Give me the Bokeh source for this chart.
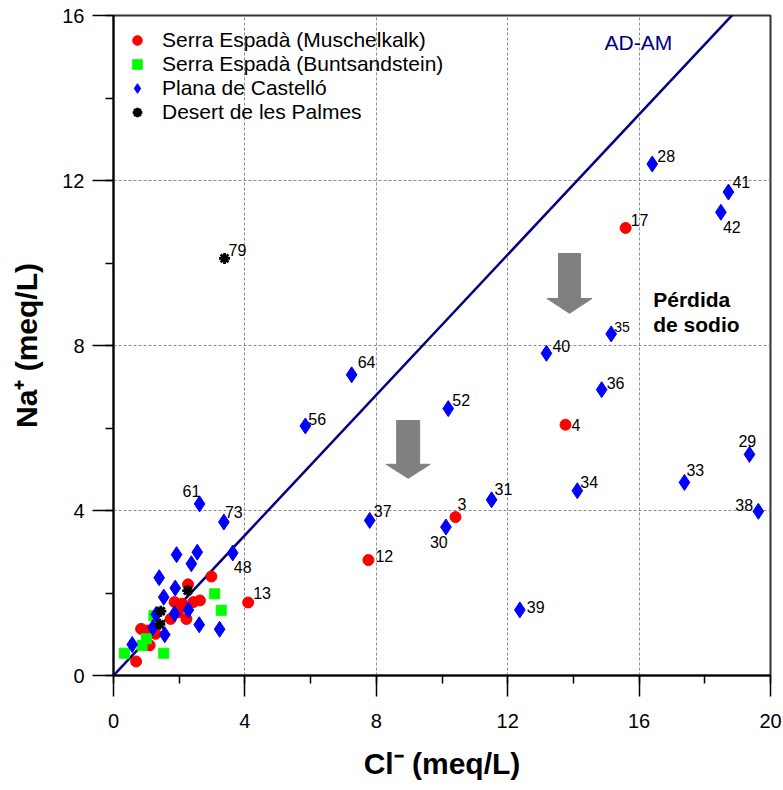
from bokeh.plotting import figure
from bokeh.models import (ColumnDataSource, SingleIntervalTicker, Label, Legend,
                          LegendItem, Range1d)
from bokeh.core.properties import value
from bokeh.embed import file_html
from bokeh.resources import INLINE

FONT = "Liberation Sans"

# Serra Espadà (Muschelkalk) -- Cl- and Na+ in meq/L, sample id ("" = unlabelled)
musch_id = ["17", "4", "3", "12", "13",
            "", "", "", "", "", "", "", "", "", "", "", "", "", ""]
musch_cl = [15.59, 13.76, 10.41, 7.76, 4.10,
            2.98, 2.27, 1.86, 2.09, 2.43, 2.63, 1.74, 2.22, 1.96, 0.84, 1.03, 1.28, 1.10, 0.69]
musch_na = [10.85, 6.08, 3.84, 2.80, 1.77,
            2.40, 2.21, 1.78, 1.74, 1.78, 1.82, 1.37, 1.37, 1.53, 1.13, 1.09, 1.01, 0.73, 0.34]

# Serra Espadà (Buntsandstein)
bunt_cl = [3.08, 3.28, 1.23, 1.00, 0.87, 0.33, 1.53]
bunt_na = [1.98, 1.58, 1.45, 0.89, 0.73, 0.54, 0.54]

# Plana de Castelló
plana_id = ["28", "41", "42", "35", "40", "36", "64", "52", "56", "29", "33", "34",
            "38", "31", "30", "37", "39", "61", "73", "48",
            "", "", "", "", "", "", "", "", "", "", "", "", "", ""]
plana_cl = [16.40, 18.72, 18.49, 15.15, 13.18, 14.86, 7.25, 10.19, 5.84, 19.36, 17.38, 14.12,
            19.63, 11.51, 10.12, 7.80, 12.37, 2.62, 3.36, 3.63,
            1.92, 2.55, 2.37, 1.39, 1.88, 1.53, 1.86, 2.28, 2.61, 3.23, 1.20, 1.56, 0.57, 1.30]
plana_na = [12.40, 11.72, 11.23, 8.28, 7.81, 6.93, 7.29, 6.47, 6.05, 5.36, 4.68, 4.48,
            3.98, 4.26, 3.60, 3.76, 1.59, 4.16, 3.72, 2.97,
            2.93, 2.99, 2.71, 2.37, 2.12, 1.90, 1.50, 1.59, 1.23, 1.12, 1.16, 0.99, 0.75, 1.48]

# Desert de les Palmes
desert_id = ["79", "", "", ""]
desert_cl = [3.38, 2.26, 1.44, 1.41]
desert_na = [10.11, 2.06, 1.56, 1.24]

# Seawater Na/Cl ratio (AD-AM mixing line)
seawater_ratio = 0.85
line_cl = [0.0, 20.0]
line_na = [seawater_ratio * c for c in line_cl]

# Label placement around each marker: (dx, dy) in pixels, +dy downward
label_offsets = {
    "28": (5, -8), "41": (4, -10), "42": (2, 15), "17": (5, -8), "35": (3, -7),
    "40": (6, -7), "36": (5, -7), "4": (6, 0), "64": (6, -13), "52": (4, -9),
    "56": (3, -7), "29": (-11, -13), "33": (2, -12), "34": (3, -9), "38": (-23, -6),
    "31": (3, -11), "3": (2, -13), "30": (-16, 15), "37": (4, -9), "12": (7, -4),
    "61": (-17, -13), "73": (1, -10), "48": (1, 14), "13": (5, -9), "39": (7, -3),
    "79": (4, -8),
}
small_labels = {"35"}

p = figure(width=783, height=790, x_range=Range1d(0, 20), y_range=Range1d(0, 16),
           output_backend="svg", toolbar_location=None,
           min_border_left=113, min_border_right=13, min_border_top=15,
           min_border_bottom=115)
p.background_fill_color = "white"
p.border_fill_color = "white"
p.outline_line_color = "#333333"
p.outline_line_width = 2

xt = SingleIntervalTicker(interval=4, num_minor_ticks=2)
yt = SingleIntervalTicker(interval=4, num_minor_ticks=2)
p.xaxis.ticker = xt
p.yaxis.ticker = yt
p.xgrid.ticker = xt
p.ygrid.ticker = yt

for g in (p.xgrid, p.ygrid):
    g.grid_line_color = "#8c8c8c"
    g.grid_line_dash = "3 2"
    g.grid_line_width = 1

for ax in (p.xaxis, p.yaxis):
    ax.axis_line_color = "black"
    ax.axis_line_width = 2
    ax.major_tick_line_color = "black"
    ax.major_tick_line_width = 1.5
    ax.minor_tick_line_color = "black"
    ax.minor_tick_line_width = 1.5
    ax.major_tick_in = 0
    ax.major_tick_out = 21
    ax.minor_tick_in = 0
    ax.minor_tick_out = 8
    ax.major_label_text_font = FONT
    ax.major_label_text_font_size = "20px"
    ax.major_label_text_color = "black"
    ax.axis_label_text_font = FONT
    ax.axis_label_text_font_size = "30px"
    ax.axis_label_text_font_style = "bold"
    ax.axis_label_text_color = "black"

p.xaxis.major_label_standoff = 17
p.yaxis.major_label_standoff = 8
p.xaxis.axis_label_standoff = 16
p.yaxis.axis_label_standoff = 16
p.xaxis.axis_label = "Cl\u207b (meq/L)"
p.yaxis.axis_label = "Na\u207a (meq/L)"

# Arrows marking sodium loss: centre Cl, top, tip, head length, half widths (data units)
arrows = [
    dict(cl=8.97, top=6.18, tip=4.78, head=0.34, shaft=0.35, head_half=0.67),
    dict(cl=13.88, top=10.23, tip=8.78, head=0.36, shaft=0.335, head_half=0.685),
]
for a in arrows:
    base = a["tip"] + a["head"]
    xs = [a["cl"] - a["shaft"], a["cl"] + a["shaft"], a["cl"] + a["shaft"],
          a["cl"] + a["head_half"], a["cl"], a["cl"] - a["head_half"], a["cl"] - a["shaft"]]
    ys = [a["top"], a["top"], base, base, a["tip"], base, base]
    p.patch(xs, ys, fill_color="#808080", line_color="#808080", line_width=1)

# Seawater mixing line
p.line(line_cl, line_na, line_color="#000080", line_width=2.5)

r_musch = p.scatter(musch_cl, musch_na, marker="circle", size=11,
                    fill_color="#ff0000", line_color="#ff0000")
r_bunt = p.scatter(bunt_cl, bunt_na, marker="square", size=10,
                   fill_color="#00ff00", line_color="#00ff00")
r_plana = p.scatter(plana_cl, plana_na, marker="diamond", size=16,
                    fill_color="#0000ff", line_color="#0000ff")
r_desert = p.scatter(desert_cl, desert_na, marker="asterisk", size=11,
                     line_color="black", line_width=2.8)

# Sample numbers
lab_x, lab_y, lab_t, lab_dx, lab_dy, lab_fs = [], [], [], [], [], []
for ids, xs, ys in ((musch_id, musch_cl, musch_na), (plana_id, plana_cl, plana_na),
                    (desert_id, desert_cl, desert_na)):
    for i, c, n in zip(ids, xs, ys):
        if not i:
            continue
        dx, dy = label_offsets[i]
        lab_x.append(c)
        lab_y.append(n)
        lab_t.append(i)
        lab_dx.append(dx)
        lab_dy.append(dy)
        lab_fs.append("14px" if i in small_labels else "16px")
lab_src = ColumnDataSource(dict(x=lab_x, y=lab_y, text=lab_t, dx=lab_dx, dy=lab_dy, fs=lab_fs))
p.text(x="x", y="y", text="text", x_offset="dx", y_offset="dy", text_font_size="fs",
       source=lab_src, text_font=value(FONT), text_color="black",
       text_align="left", text_baseline="middle")

p.add_layout(Label(x=14.95, y=15.35, text="AD-AM", text_color="#000080",
                   text_font=FONT, text_font_size="21px",
                   text_align="left", text_baseline="middle"))
p.add_layout(Label(x=16.43, y=9.11, text="Pérdida", text_color="black",
                   text_font=FONT, text_font_size="21px", text_font_style="bold",
                   text_align="left", text_baseline="alphabetic"))
p.add_layout(Label(x=16.43, y=8.51, text="de sodio", text_color="black",
                   text_font=FONT, text_font_size="21px", text_font_style="bold",
                   text_align="left", text_baseline="alphabetic"))

legend = Legend(items=[
    LegendItem(label="Serra Espadà (Muschelkalk)", renderers=[r_musch]),
    LegendItem(label="Serra Espadà (Buntsandstein)", renderers=[r_bunt]),
    LegendItem(label="Plana de Castelló", renderers=[r_plana]),
    LegendItem(label="Desert de les Palmes", renderers=[r_desert]),
], location=(12, 551))
legend.label_text_font = FONT
legend.label_text_font_size = "21px"
legend.label_text_color = "black"
legend.glyph_width = 24
legend.glyph_height = 24
legend.label_height = 24
legend.spacing = 0
legend.label_standoff = 13
legend.padding = 5
legend.margin = 0
legend.border_line_color = None
legend.background_fill_alpha = 0
p.add_layout(legend)

open("out.html", "w").write(file_html(p, INLINE))
